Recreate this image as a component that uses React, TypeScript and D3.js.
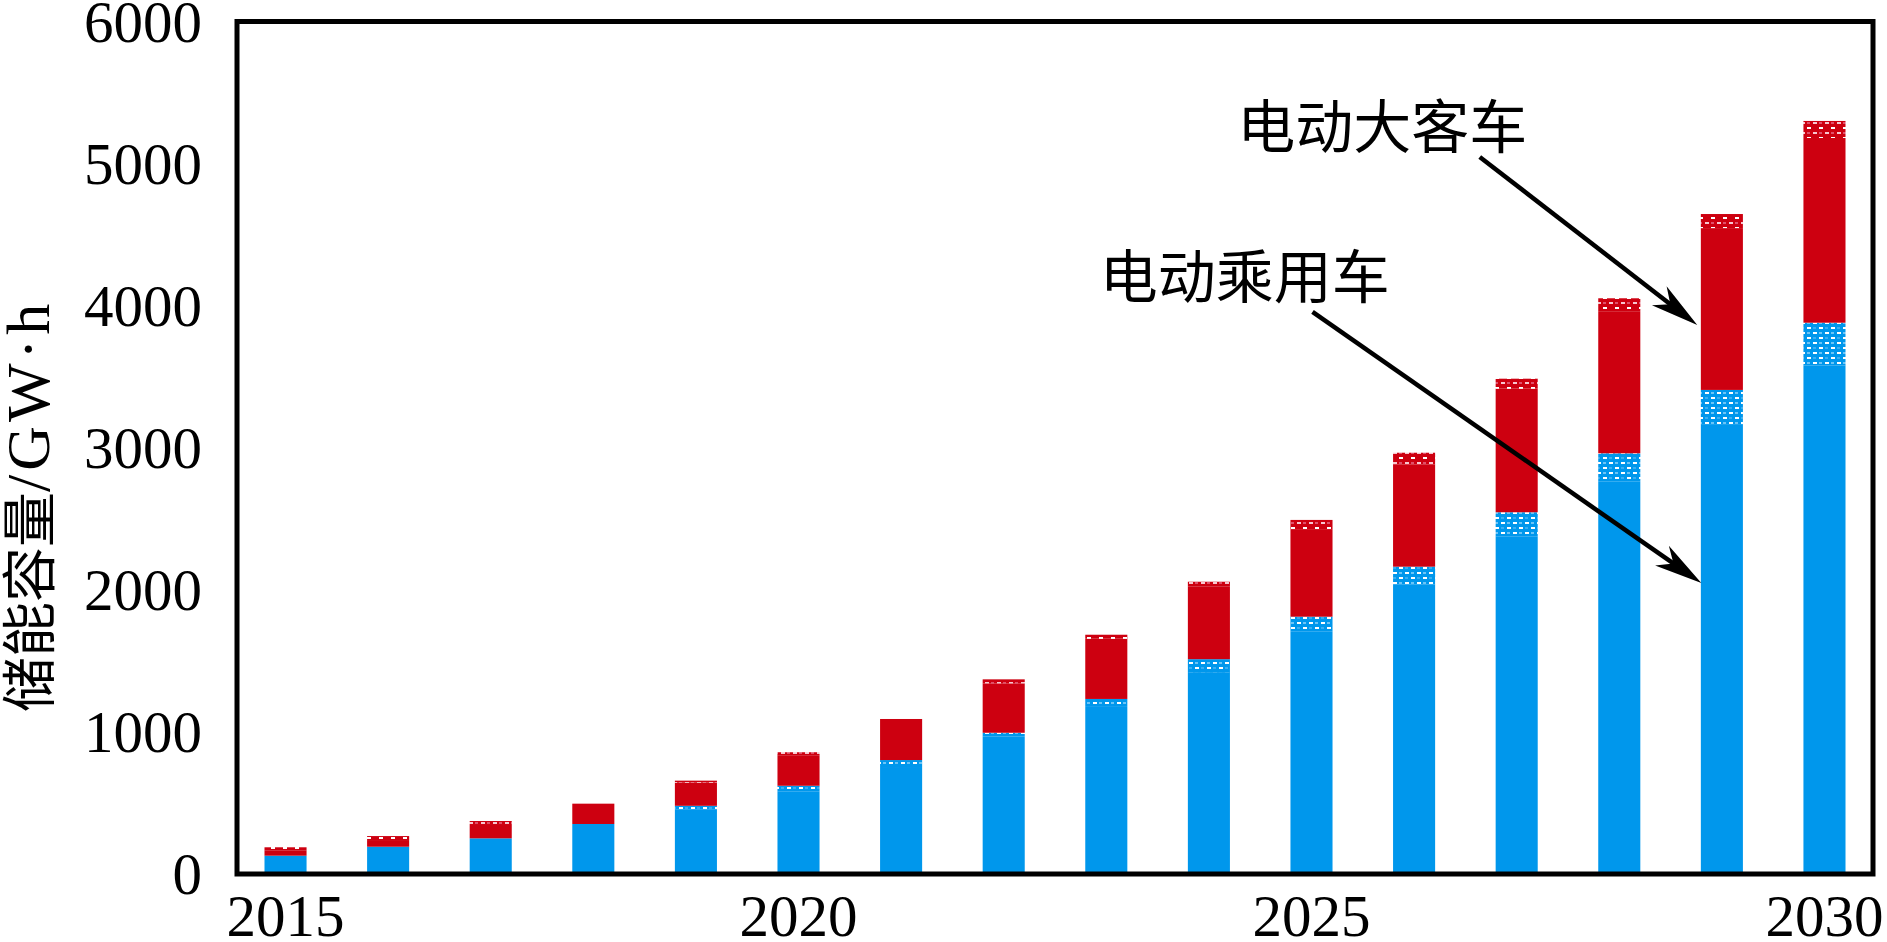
import React from "react";
import * as d3 from "d3";

// Years on the x axis
const years = [
  2015, 2016, 2017, 2018, 2019, 2020, 2021, 2022, 2023, 2024, 2025, 2026,
  2027, 2028, 2029, 2030,
];
// 电动乘用车 storage capacity, GW·h (lower, blue segment)
const passengerCar = [
  129, 192, 251, 352, 480, 621, 802, 994, 1232, 1512, 1811, 2163, 2546, 2961,
  3407, 3880,
];
// dotted top part of the blue segment (included in passengerCar)
const passengerCarBand = [
  0, 0, 0, 0, 28, 42, 49, 25, 56, 91, 106, 127, 169, 197, 246, 300,
];
// 电动大客车 storage capacity, GW·h (upper, red segment)
const bus = [
  59, 75, 122, 143, 177, 236, 289, 376, 452, 545, 681, 802, 940, 1091, 1238,
  1420,
];
// dotted top part of the red segment (included in bus)
const busBand = [21, 28, 28, 0, 14, 21, 0, 28, 28, 35, 70, 84, 70, 91, 99, 120];

const yTicks = [0, 1000, 2000, 3000, 4000, 5000, 6000];
const xTickYears = [2015, 2020, 2025, 2030];

// annotations: [year, value] anchors
const annotations = [
  { text: "电动大客车", at: [2025.69, 5110], from: [2026.64, 5047], to: [2028.76, 3864] },
  { text: "电动乘用车", at: [2024.35, 4054], from: [2025.01, 3956], to: [2028.8, 2048] },
];

const W = 1887;
const H = 942;
const frame = { left: 237, right: 1873, top: 21.5, bottom: 874 };
const BLUE = "#0097EC";
const RED = "#CD0010";
const serif = "'Liberation Serif', 'Times New Roman', 'Noto Sans CJK SC', serif";
const cjk = "'Noto Sans CJK SC', sans-serif";

function arrow(x1: number, y1: number, x2: number, y2: number) {
  const dx = x2 - x1;
  const dy = y2 - y1;
  const len = Math.hypot(dx, dy);
  const ux = dx / len;
  const uy = dy / len;
  const px = -uy;
  const py = ux;
  const headLen = 48;
  const headW = 12;
  const notch = 14;
  const bx = x2 - ux * (headLen - notch);
  const by = y2 - uy * (headLen - notch);
  const head = [
    [x2, y2],
    [x2 - ux * headLen + px * headW, y2 - uy * headLen + py * headW],
    [bx, by],
    [x2 - ux * headLen - px * headW, y2 - uy * headLen - py * headW],
  ];
  return { line: [x1, y1, bx + ux * 2, by + uy * 2], head: "M" + head.map((p) => p.join(",")).join("L") + "Z" };
}

export default function App() {
  const x = d3
    .scaleBand<number>()
    .domain(years)
    .range([frame.left, frame.right])
    .paddingInner(0.59)
    .paddingOuter(0.268);
  const y = d3.scaleLinear().domain([0, 6000]).range([frame.bottom, frame.top]);
  const bw = x.bandwidth();
  const c0 = (x(2015) as number) + bw / 2;
  const c1 = (x(2030) as number) + bw / 2;
  const xl = d3.scaleLinear().domain([2015, 2030]).range([c0, c1]);

  return (
    <svg
      width={W}
      height={H}
      style={{ position: "absolute", left: 0, top: 0, background: "#fff" }}
    >
      <defs>
        <pattern id="dotBlue" width="12" height="10" patternUnits="userSpaceOnUse">
          <rect width="12" height="10" fill={BLUE} />
          <rect x="1" y="2" width="4" height="2" fill="#ffffff" />
          <rect x="7" y="2" width="3" height="2" fill="#6cc4f6" />
          <rect x="7" y="7" width="4" height="2" fill="#ffffff" />
          <rect x="1" y="7" width="3" height="2" fill="#3aaef0" />
        </pattern>
        <pattern id="dotRed" width="12" height="10" patternUnits="userSpaceOnUse">
          <rect width="12" height="10" fill={RED} />
          <rect x="1" y="2" width="4" height="2" fill="#f7c6cf" />
          <rect x="7" y="7" width="4" height="2" fill="#ffffff" />
          <rect x="7" y="2" width="3" height="2" fill="#e0506a" />
        </pattern>
      </defs>

      {/* bars */}
      {years.map((yr, i) => {
        const bx = x(yr) as number;
        const pTop = passengerCar[i];
        const pBand = pTop - passengerCarBand[i];
        const rTop = pTop + bus[i];
        const rBand = rTop - busBand[i];
        return (
          <g key={yr}>
            <rect x={bx} width={bw} y={y(pBand)} height={y(0) - y(pBand)} fill={BLUE} />
            <rect x={bx} width={bw} y={y(pTop)} height={y(pBand) - y(pTop)} fill="url(#dotBlue)" />
            <rect x={bx} width={bw} y={y(rBand)} height={y(pTop) - y(rBand)} fill={RED} />
            <rect x={bx} width={bw} y={y(rTop)} height={y(rBand) - y(rTop)} fill="url(#dotRed)" />
          </g>
        );
      })}

      {/* frame */}
      <rect
        x={frame.left}
        y={frame.top}
        width={frame.right - frame.left}
        height={frame.bottom - frame.top}
        fill="none"
        stroke="#000"
        strokeWidth={5}
      />

      {/* y tick labels */}
      {yTicks.map((t) => (
        <text
          key={t}
          x={202}
          y={y(t) + 20}
          textAnchor="end"
          fontFamily={serif}
          fontSize={59}
          fill="#000"
        >
          {t}
        </text>
      ))}

      {/* x tick labels */}
      {xTickYears.map((yr) => (
        <text
          key={yr}
          x={(x(yr) as number) + bw / 2}
          y={936}
          textAnchor="middle"
          fontFamily={serif}
          fontSize={59}
          fill="#000"
        >
          {yr}
        </text>
      ))}

      {/* y axis title */}
      <text
        transform={`translate(49,712) rotate(-90)`}
        textAnchor="start"
        fill="#000"
      >
        <tspan fontFamily={cjk} fontSize={55}>储能容量</tspan>
        <tspan fontFamily={serif} fontSize={62} letterSpacing={4}>/GW·h</tspan>
      </text>

      {/* annotations */}
      {annotations.map((a) => {
        const ar = arrow(xl(a.from[0]), y(a.from[1]), xl(a.to[0]), y(a.to[1]));
        return (
          <g key={a.text}>
            <text
              x={xl(a.at[0])}
              y={y(a.at[1])}
              textAnchor="middle"
              fontFamily={cjk}
              fontSize={58}
              fill="#000"
            >
              {a.text}
            </text>
            <line
              x1={ar.line[0]}
              y1={ar.line[1]}
              x2={ar.line[2]}
              y2={ar.line[3]}
              stroke="#000"
              strokeWidth={4.5}
            />
            <path d={ar.head} fill="#000" />
          </g>
        );
      })}
    </svg>
  );
}
